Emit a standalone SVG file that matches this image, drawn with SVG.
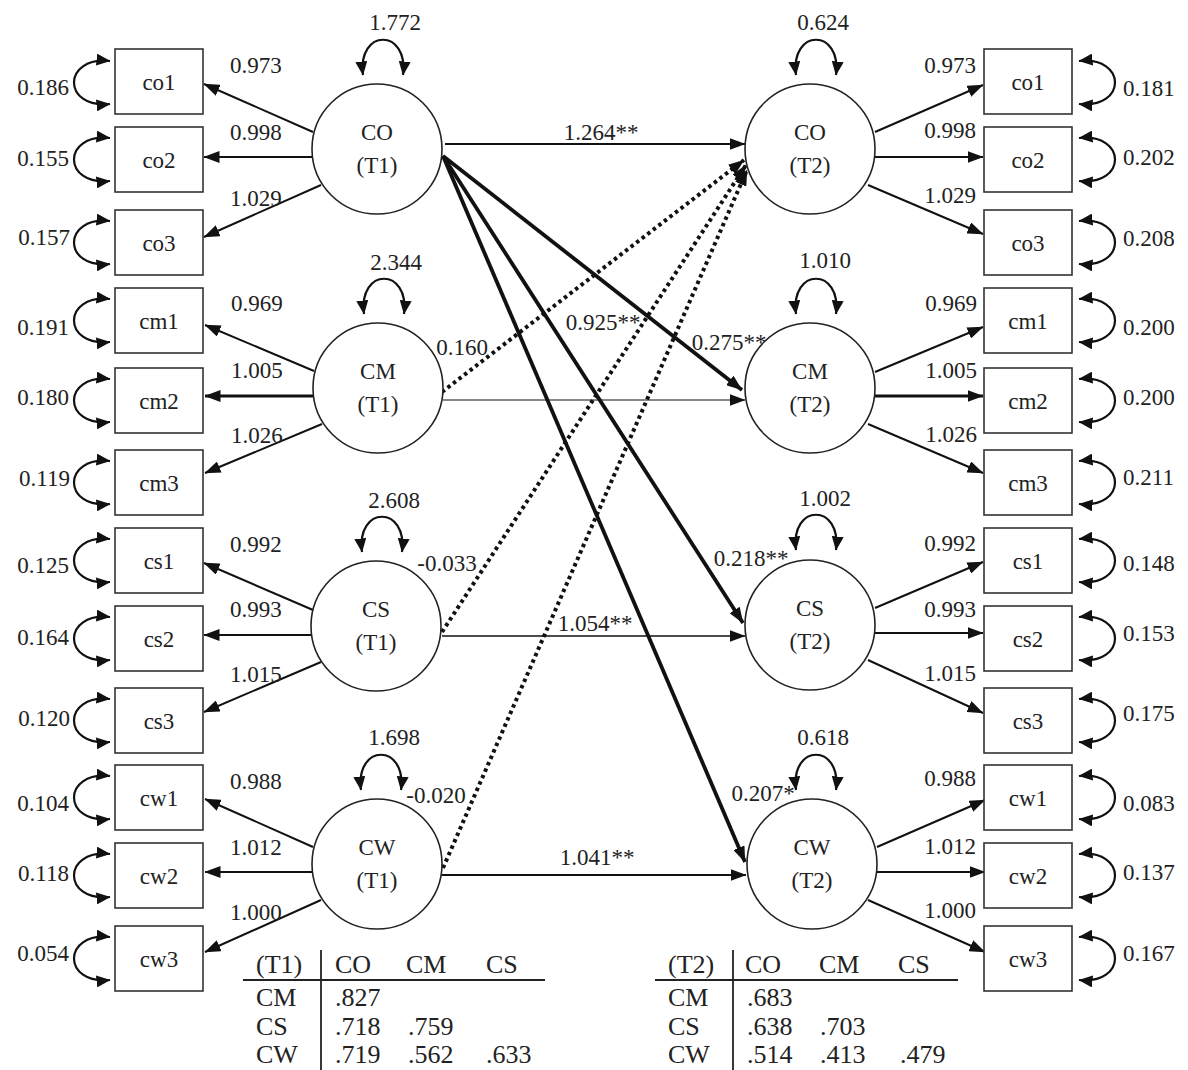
<svg xmlns="http://www.w3.org/2000/svg" width="1188" height="1070" viewBox="0 0 1188 1070">
<style>
text{font-family:"Liberation Serif","Times New Roman",serif;fill:#222}
.t{font-size:23px}
.m{font-size:23px;text-anchor:middle}
.e{font-size:23px;text-anchor:end}
.tb{font-size:26px}
.box{fill:#fff;stroke:#333;stroke-width:1.6}
.lv{fill:#fff;stroke:#222;stroke-width:1.6}
.ln{fill:none;stroke:#111;stroke-width:2}
.thk{fill:none;stroke:#111;stroke-width:3.8}
.dot{fill:none;stroke:#111;stroke-width:4;stroke-dasharray:3.5 3.5}
.arc{fill:none;stroke:#111;stroke-width:2.2}
.tl{stroke:#222;stroke-width:1.8;fill:none}
</style>
<defs>
<marker id="ah" viewBox="0 0 16 12" refX="15.5" refY="6" markerWidth="16" markerHeight="12" markerUnits="userSpaceOnUse" orient="auto-start-reverse"><path d="M0,0 L16,6 L0,12 z" fill="#111"/></marker>
<marker id="ah2" viewBox="0 0 14 12" refX="13.5" refY="6" markerWidth="14" markerHeight="12" markerUnits="userSpaceOnUse" orient="auto-start-reverse"><path d="M0,0 L14,6 L0,12 z" fill="#111"/></marker>
</defs>

<!-- Connectors -->
<g id="connectors">
  <!-- left loadings -->
  <path class="ln" d="M313,132 L204,84" marker-end="url(#ah)"/>
  <path class="ln" d="M312,157 L204,157" marker-end="url(#ah)"/>
  <path class="ln" d="M321,185 L204,237" marker-end="url(#ah)"/>
  <path class="ln" d="M314,371 L205,325" marker-end="url(#ah)"/>
  <path class="ln" style="stroke-width:3" d="M313,396 L205,396" marker-end="url(#ah)"/>
  <path class="ln" d="M322,424 L205,473" marker-end="url(#ah)"/>
  <path class="ln" d="M313,610 L204,563" marker-end="url(#ah)"/>
  <path class="ln" d="M312,635 L204,635" marker-end="url(#ah)"/>
  <path class="ln" d="M321,662 L204,712" marker-end="url(#ah)"/>
  <path class="ln" d="M313,847 L205,799" marker-end="url(#ah)"/>
  <path class="ln" d="M312,872 L205,872" marker-end="url(#ah)"/>
  <path class="ln" d="M321,900 L205,952" marker-end="url(#ah)"/>
  <!-- right loadings -->
  <path class="ln" d="M875,132 L983,85" marker-end="url(#ah)"/>
  <path class="ln" d="M875,157 L983,157" marker-end="url(#ah)"/>
  <path class="ln" d="M868,185 L983,234" marker-end="url(#ah)"/>
  <path class="ln" d="M875,372 L983,327" marker-end="url(#ah)"/>
  <path class="ln" style="stroke-width:3" d="M875,396 L983,396" marker-end="url(#ah)"/>
  <path class="ln" d="M868,424 L983,473" marker-end="url(#ah)"/>
  <path class="ln" d="M875,608 L983,562" marker-end="url(#ah)"/>
  <path class="ln" d="M875,633 L983,633" marker-end="url(#ah)"/>
  <path class="ln" d="M868,660 L983,713" marker-end="url(#ah)"/>
  <path class="ln" d="M877,847 L985,800" marker-end="url(#ah)"/>
  <path class="ln" d="M877,872 L985,872" marker-end="url(#ah)"/>
  <path class="ln" d="M868,900 L985,952" marker-end="url(#ah)"/>
  <!-- left residual arcs -->
  <path class="arc" d="M110,61 C62,56 62,109 110,104" marker-start="url(#ah2)" marker-end="url(#ah2)"/>
  <path class="arc" d="M110,138 C62,133 62,186 110,181" marker-start="url(#ah2)" marker-end="url(#ah2)"/>
  <path class="arc" d="M110,221 C62,216 62,269 110,264" marker-start="url(#ah2)" marker-end="url(#ah2)"/>
  <path class="arc" d="M110,299 C62,294 62,347 110,342" marker-start="url(#ah2)" marker-end="url(#ah2)"/>
  <path class="arc" d="M110,379 C62,374 62,427 110,422" marker-start="url(#ah2)" marker-end="url(#ah2)"/>
  <path class="arc" d="M110,461 C62,456 62,509 110,504" marker-start="url(#ah2)" marker-end="url(#ah2)"/>
  <path class="arc" d="M110,539 C62,534 62,587 110,582" marker-start="url(#ah2)" marker-end="url(#ah2)"/>
  <path class="arc" d="M110,617 C62,612 62,665 110,660" marker-start="url(#ah2)" marker-end="url(#ah2)"/>
  <path class="arc" d="M110,699 C62,694 62,747 110,742" marker-start="url(#ah2)" marker-end="url(#ah2)"/>
  <path class="arc" d="M110,776 C62,771 62,824 110,819" marker-start="url(#ah2)" marker-end="url(#ah2)"/>
  <path class="arc" d="M110,854 C62,849 62,902 110,897" marker-start="url(#ah2)" marker-end="url(#ah2)"/>
  <path class="arc" d="M110,937 C62,932 62,985 110,980" marker-start="url(#ah2)" marker-end="url(#ah2)"/>
  <!-- right residual arcs -->
  <path class="arc" d="M1079,61 C1127,56 1127,109 1079,104" marker-start="url(#ah2)" marker-end="url(#ah2)"/>
  <path class="arc" d="M1079,138 C1127,133 1127,186 1079,181" marker-start="url(#ah2)" marker-end="url(#ah2)"/>
  <path class="arc" d="M1079,221 C1127,216 1127,269 1079,264" marker-start="url(#ah2)" marker-end="url(#ah2)"/>
  <path class="arc" d="M1079,299 C1127,294 1127,347 1079,342" marker-start="url(#ah2)" marker-end="url(#ah2)"/>
  <path class="arc" d="M1079,379 C1127,374 1127,427 1079,422" marker-start="url(#ah2)" marker-end="url(#ah2)"/>
  <path class="arc" d="M1079,461 C1127,456 1127,509 1079,504" marker-start="url(#ah2)" marker-end="url(#ah2)"/>
  <path class="arc" d="M1079,539 C1127,534 1127,587 1079,582" marker-start="url(#ah2)" marker-end="url(#ah2)"/>
  <path class="arc" d="M1079,617 C1127,612 1127,665 1079,660" marker-start="url(#ah2)" marker-end="url(#ah2)"/>
  <path class="arc" d="M1079,699 C1127,694 1127,747 1079,742" marker-start="url(#ah2)" marker-end="url(#ah2)"/>
  <path class="arc" d="M1079,776 C1127,771 1127,824 1079,819" marker-start="url(#ah2)" marker-end="url(#ah2)"/>
  <path class="arc" d="M1079,854 C1127,849 1127,902 1079,897" marker-start="url(#ah2)" marker-end="url(#ah2)"/>
  <path class="arc" d="M1079,937 C1127,932 1127,985 1079,980" marker-start="url(#ah2)" marker-end="url(#ah2)"/>
  <!-- variance loops -->
  <path class="arc" d="M363,75 C357,28 409,28 403,75" marker-start="url(#ah2)" marker-end="url(#ah2)"/>
  <path class="arc" d="M364,314 C358,267 410,267 404,314" marker-start="url(#ah2)" marker-end="url(#ah2)"/>
  <path class="arc" d="M362,552 C356,505 408,505 402,552" marker-start="url(#ah2)" marker-end="url(#ah2)"/>
  <path class="arc" d="M361,790 C355,743 407,743 401,790" marker-start="url(#ah2)" marker-end="url(#ah2)"/>
  <path class="arc" d="M796,75 C790,28 842,28 836,75" marker-start="url(#ah2)" marker-end="url(#ah2)"/>
  <path class="arc" d="M796,314 C790,267 842,267 836,314" marker-start="url(#ah2)" marker-end="url(#ah2)"/>
  <path class="arc" d="M796,550 C790,503 842,503 836,550" marker-start="url(#ah2)" marker-end="url(#ah2)"/>
  <path class="arc" d="M796,790 C790,743 842,743 836,790" marker-start="url(#ah2)" marker-end="url(#ah2)"/>
  <!-- structural paths -->
  <path class="ln" d="M445,144 L745,144" marker-end="url(#ah)"/>
  <path class="ln" style="stroke-width:1.2" d="M443,400 L745,400" marker-end="url(#ah)"/>
  <path class="ln" style="stroke-width:1.6" d="M442,636 L745,636" marker-end="url(#ah)"/>
  <path class="ln" d="M442,875 L746,875" marker-end="url(#ah)"/>
  <path class="thk" d="M443,156 L742,390" marker-end="url(#ah)"/>
  <path class="thk" d="M443,156 L743,623" marker-end="url(#ah)"/>
  <path class="thk" d="M443,156 L745,862" marker-end="url(#ah)"/>
  <path class="dot" d="M442,392 L744,160" marker-end="url(#ah)"/>
  <path class="dot" d="M442,632 L746,165" marker-end="url(#ah)"/>
  <path class="dot" d="M443,868 L747,170" marker-end="url(#ah)"/>
</g>

<!-- Left indicators -->
<g id="co1_L"><rect class="box" x="115" y="49" width="88" height="65"/><text class="m" x="159" y="90">co1</text></g>
<g id="co2_L"><rect class="box" x="115" y="127" width="88" height="65"/><text class="m" x="159" y="168">co2</text></g>
<g id="co3_L"><rect class="box" x="115" y="210" width="88" height="65"/><text class="m" x="159" y="251">co3</text></g>
<g id="cm1_L"><rect class="box" x="115" y="288" width="88" height="65"/><text class="m" x="159" y="329">cm1</text></g>
<g id="cm2_L"><rect class="box" x="115" y="368" width="88" height="65"/><text class="m" x="159" y="409">cm2</text></g>
<g id="cm3_L"><rect class="box" x="115" y="450" width="88" height="65"/><text class="m" x="159" y="491">cm3</text></g>
<g id="cs1_L"><rect class="box" x="115" y="528" width="88" height="65"/><text class="m" x="159" y="569">cs1</text></g>
<g id="cs2_L"><rect class="box" x="115" y="606" width="88" height="65"/><text class="m" x="159" y="647">cs2</text></g>
<g id="cs3_L"><rect class="box" x="115" y="688" width="88" height="65"/><text class="m" x="159" y="729">cs3</text></g>
<g id="cw1_L"><rect class="box" x="115" y="765" width="88" height="65"/><text class="m" x="159" y="806">cw1</text></g>
<g id="cw2_L"><rect class="box" x="115" y="843" width="88" height="65"/><text class="m" x="159" y="884">cw2</text></g>
<g id="cw3_L"><rect class="box" x="115" y="926" width="88" height="65"/><text class="m" x="159" y="967">cw3</text></g>

<!-- Right indicators -->
<g id="co1_R"><rect class="box" x="984" y="49" width="88" height="65"/><text class="m" x="1028" y="90">co1</text></g>
<g id="co2_R"><rect class="box" x="984" y="127" width="88" height="65"/><text class="m" x="1028" y="168">co2</text></g>
<g id="co3_R"><rect class="box" x="984" y="210" width="88" height="65"/><text class="m" x="1028" y="251">co3</text></g>
<g id="cm1_R"><rect class="box" x="984" y="288" width="88" height="65"/><text class="m" x="1028" y="329">cm1</text></g>
<g id="cm2_R"><rect class="box" x="984" y="368" width="88" height="65"/><text class="m" x="1028" y="409">cm2</text></g>
<g id="cm3_R"><rect class="box" x="984" y="450" width="88" height="65"/><text class="m" x="1028" y="491">cm3</text></g>
<g id="cs1_R"><rect class="box" x="984" y="528" width="88" height="65"/><text class="m" x="1028" y="569">cs1</text></g>
<g id="cs2_R"><rect class="box" x="984" y="606" width="88" height="65"/><text class="m" x="1028" y="647">cs2</text></g>
<g id="cs3_R"><rect class="box" x="984" y="688" width="88" height="65"/><text class="m" x="1028" y="729">cs3</text></g>
<g id="cw1_R"><rect class="box" x="984" y="765" width="88" height="65"/><text class="m" x="1028" y="806">cw1</text></g>
<g id="cw2_R"><rect class="box" x="984" y="843" width="88" height="65"/><text class="m" x="1028" y="884">cw2</text></g>
<g id="cw3_R"><rect class="box" x="984" y="926" width="88" height="65"/><text class="m" x="1028" y="967">cw3</text></g>

<!-- Latent variables -->
<g id="CO_T1"><circle class="lv" cx="377" cy="149" r="65"/><text class="m" x="377" y="140">CO</text><text class="m" x="377" y="173">(T1)</text></g>
<g id="CM_T1"><circle class="lv" cx="378" cy="388" r="65"/><text class="m" x="378" y="379">CM</text><text class="m" x="378" y="412">(T1)</text></g>
<g id="CS_T1"><circle class="lv" cx="376" cy="626" r="65"/><text class="m" x="376" y="617">CS</text><text class="m" x="376" y="650">(T1)</text></g>
<g id="CW_T1"><circle class="lv" cx="377" cy="864" r="65"/><text class="m" x="377" y="855">CW</text><text class="m" x="377" y="888">(T1)</text></g>
<g id="CO_T2"><circle class="lv" cx="810" cy="149" r="65"/><text class="m" x="810" y="140">CO</text><text class="m" x="810" y="173">(T2)</text></g>
<g id="CM_T2"><circle class="lv" cx="810" cy="388" r="65"/><text class="m" x="810" y="379">CM</text><text class="m" x="810" y="412">(T2)</text></g>
<g id="CS_T2"><circle class="lv" cx="810" cy="625" r="65"/><text class="m" x="810" y="616">CS</text><text class="m" x="810" y="649">(T2)</text></g>
<g id="CW_T2"><circle class="lv" cx="812" cy="864" r="65"/><text class="m" x="812" y="855">CW</text><text class="m" x="812" y="888">(T2)</text></g>

<!-- Labels -->
<g id="labels">
  <!-- residual variances left -->
  <text class="e" x="69" y="95">0.186</text>
  <text class="e" x="69" y="166">0.155</text>
  <text class="e" x="70" y="245">0.157</text>
  <text class="e" x="69" y="335">0.191</text>
  <text class="e" x="69" y="405">0.180</text>
  <text class="e" x="70" y="486">0.119</text>
  <text class="e" x="69" y="573">0.125</text>
  <text class="e" x="69" y="645">0.164</text>
  <text class="e" x="70" y="726">0.120</text>
  <text class="e" x="69" y="811">0.104</text>
  <text class="e" x="69" y="881">0.118</text>
  <text class="e" x="69" y="961">0.054</text>
  <!-- residual variances right -->
  <text class="t" x="1123" y="96">0.181</text>
  <text class="t" x="1123" y="165">0.202</text>
  <text class="t" x="1123" y="246">0.208</text>
  <text class="t" x="1123" y="335">0.200</text>
  <text class="t" x="1123" y="405">0.200</text>
  <text class="t" x="1123" y="485">0.211</text>
  <text class="t" x="1123" y="571">0.148</text>
  <text class="t" x="1123" y="641">0.153</text>
  <text class="t" x="1123" y="721">0.175</text>
  <text class="t" x="1123" y="811">0.083</text>
  <text class="t" x="1123" y="880">0.137</text>
  <text class="t" x="1123" y="961">0.167</text>
  <!-- loadings left -->
  <text class="t" x="230" y="73">0.973</text>
  <text class="t" x="230" y="140">0.998</text>
  <text class="t" x="230" y="206">1.029</text>
  <text class="t" x="231" y="311">0.969</text>
  <text class="t" x="231" y="378">1.005</text>
  <text class="t" x="231" y="443">1.026</text>
  <text class="t" x="230" y="552">0.992</text>
  <text class="t" x="230" y="617">0.993</text>
  <text class="t" x="230" y="682">1.015</text>
  <text class="t" x="230" y="789">0.988</text>
  <text class="t" x="230" y="855">1.012</text>
  <text class="t" x="230" y="920">1.000</text>
  <!-- loadings right -->
  <text class="e" x="976" y="73">0.973</text>
  <text class="e" x="976" y="138">0.998</text>
  <text class="e" x="976" y="203">1.029</text>
  <text class="e" x="977" y="311">0.969</text>
  <text class="e" x="977" y="378">1.005</text>
  <text class="e" x="977" y="442">1.026</text>
  <text class="e" x="976" y="551">0.992</text>
  <text class="e" x="976" y="617">0.993</text>
  <text class="e" x="976" y="681">1.015</text>
  <text class="e" x="976" y="786">0.988</text>
  <text class="e" x="976" y="854">1.012</text>
  <text class="e" x="976" y="918">1.000</text>
  <!-- latent variances -->
  <text class="m" x="395" y="30">1.772</text>
  <text class="m" x="396" y="270">2.344</text>
  <text class="m" x="394" y="508">2.608</text>
  <text class="m" x="394" y="745">1.698</text>
  <text class="m" x="823" y="30">0.624</text>
  <text class="m" x="825" y="268">1.010</text>
  <text class="m" x="825" y="506">1.002</text>
  <text class="m" x="823" y="745">0.618</text>
  <!-- structural -->
  <text class="m" x="601" y="140">1.264**</text>
  <text class="m" x="603" y="330">0.925**</text>
  <text class="m" x="595" y="631">1.054**</text>
  <text class="m" x="597" y="865">1.041**</text>
  <text class="m" x="729" y="350">0.275**</text>
  <text class="m" x="751" y="566">0.218**</text>
  <text class="m" x="763" y="801">0.207*</text>
  <text class="m" x="462" y="355">0.160</text>
  <text class="m" x="447" y="571">-0.033</text>
  <text class="m" x="436" y="803">-0.020</text>
</g>

<!-- Correlation table T1 -->
<g id="table_T1">
  <line class="tl" x1="321" y1="950" x2="321" y2="1070"/>
  <line class="tl" x1="243" y1="980" x2="545" y2="980"/>
  <text class="tb" x="256" y="973">(T1)</text>
  <text class="tb" x="335" y="973">CO</text>
  <text class="tb" x="406" y="973">CM</text>
  <text class="tb" x="486" y="973">CS</text>
  <text class="tb" x="256" y="1006">CM</text>
  <text class="tb" x="335" y="1006">.827</text>
  <text class="tb" x="256" y="1035">CS</text>
  <text class="tb" x="335" y="1035">.718</text>
  <text class="tb" x="408" y="1035">.759</text>
  <text class="tb" x="256" y="1063">CW</text>
  <text class="tb" x="335" y="1063">.719</text>
  <text class="tb" x="408" y="1063">.562</text>
  <text class="tb" x="486" y="1063">.633</text>
</g>

<!-- Correlation table T2 -->
<g id="table_T2">
  <line class="tl" x1="733" y1="950" x2="733" y2="1070"/>
  <line class="tl" x1="655" y1="980" x2="958" y2="980"/>
  <text class="tb" x="668" y="973">(T2)</text>
  <text class="tb" x="745" y="973">CO</text>
  <text class="tb" x="819" y="973">CM</text>
  <text class="tb" x="898" y="973">CS</text>
  <text class="tb" x="668" y="1006">CM</text>
  <text class="tb" x="747" y="1006">.683</text>
  <text class="tb" x="668" y="1035">CS</text>
  <text class="tb" x="747" y="1035">.638</text>
  <text class="tb" x="820" y="1035">.703</text>
  <text class="tb" x="668" y="1063">CW</text>
  <text class="tb" x="747" y="1063">.514</text>
  <text class="tb" x="820" y="1063">.413</text>
  <text class="tb" x="900" y="1063">.479</text>
</g>
</svg>
